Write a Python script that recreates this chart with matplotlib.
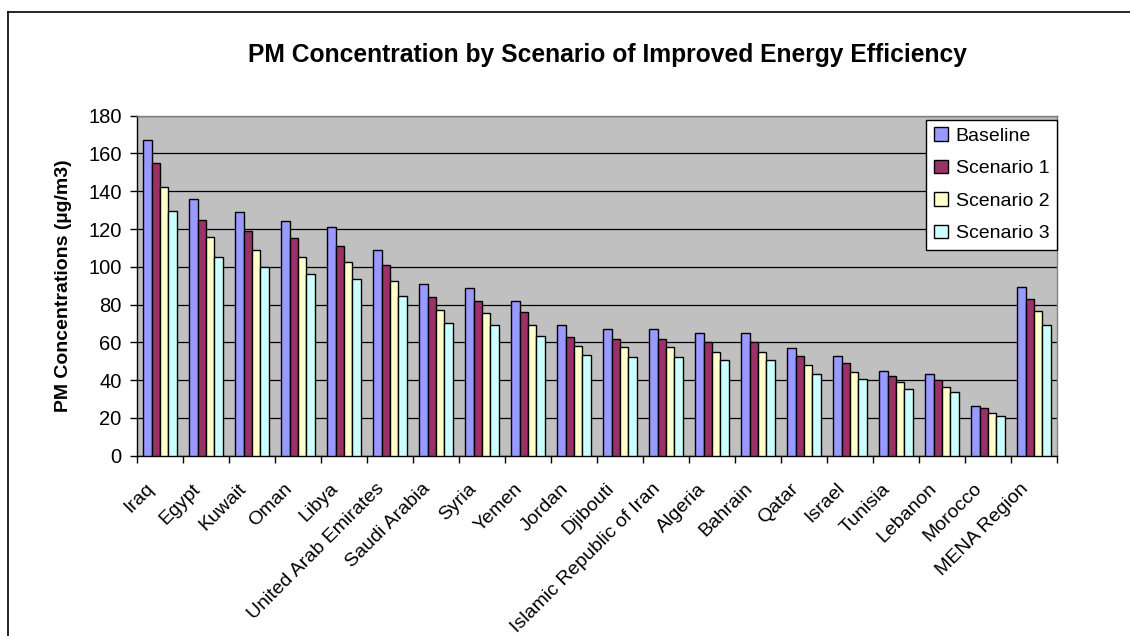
import matplotlib
matplotlib.use("Agg")
import matplotlib.pyplot as plt
import numpy as np
from matplotlib.lines import Line2D
from matplotlib.patches import Patch

plt.rcParams['font.family'] = ['Liberation Sans', 'DejaVu Sans']

categories = ["Iraq", "Egypt", "Kuwait", "Oman", "Libya", "United Arab Emirates",
              "Saudi Arabia", "Syria", "Yemen", "Jordan", "Djibouti",
              "Islamic Republic of Iran", "Algeria", "Bahrain", "Qatar", "Israel",
              "Tunisia", "Lebanon", "Morocco", "MENA Region"]
baseline = [167, 136, 129, 124, 121, 109, 91, 89, 82, 69, 67, 67, 65, 65, 57, 53, 45, 43, 26.5, 89.5]
scenario1 = [155, 125, 119, 115, 111, 101, 84, 82, 76, 63, 62, 62, 60, 60, 53, 49, 42, 40, 25, 83]
scenario2 = [142, 116, 109, 105, 102.5, 92.5, 77, 75.5, 69, 58, 57.5, 57.5, 55, 55, 48, 44.5, 39, 36.5, 22.5, 76.5]
scenario3 = [129.5, 105, 100, 96, 93.5, 84.5, 70, 69, 63.5, 53.5, 52.5, 52.5, 50.5, 50.5, 43.5, 40.5, 35.5, 33.5, 21, 69]
series_names = ["Baseline", "Scenario 1", "Scenario 2", "Scenario 3"]
colors = ["#9999FF", "#993366", "#FFFFCC", "#CCFFFF"]
yticks = [0, 20, 40, 60, 80, 100, 120, 140, 160, 180]

W, H = 1130, 636
fig = plt.figure(figsize=(W / 100, H / 100), dpi=100)
fig.patch.set_facecolor("white")

# outer frame lines (top and left)
fig.add_artist(Line2D([8 / W, 1.0], [1 - 12 / H, 1 - 12 / H], color="black", lw=1.2))
fig.add_artist(Line2D([8 / W, 8 / W], [0, 1 - 12 / H], color="black", lw=1.2))

left, right, top, bottom = 137, 1057, 115.7, 455.7
ax = fig.add_axes([left / W, 1 - bottom / H, (right - left) / W, (bottom - top) / H])
ax.set_facecolor("#C0C0C0")

n = len(categories)
x = np.arange(n)
bw = 1 / 5.5
data = [baseline, scenario1, scenario2, scenario3]
for i, (vals, c, name) in enumerate(zip(data, colors, series_names)):
    ax.bar(x + (i - 1.5) * bw, vals, width=bw, color=c, edgecolor="black",
           linewidth=1.0, label=name, zorder=3)

ax.set_xlim(-0.5, n - 0.5)
ax.set_ylim(0, 180)
ax.set_yticks(yticks)
ax.yaxis.grid(True, color="black", lw=0.9, zorder=1)
ax.tick_params(axis="y", labelsize=14.5, length=5, width=1, direction="out", pad=6)
for s in ["top", "right"]:
    ax.spines[s].set_color("#808080")
    ax.spines[s].set_linewidth(1.0)
for s in ["left", "bottom"]:
    ax.spines[s].set_color("black")
    ax.spines[s].set_linewidth(1.0)

ax.set_xticks(np.arange(n + 1) - 0.5)
ax.set_xticklabels([])
ax.tick_params(axis="x", length=5, width=1, direction="out")
for i, lab in enumerate(categories):
    ax.annotate(lab, xy=(i, 0), xycoords=("data", "axes fraction"),
                xytext=(-6, -22), textcoords="offset points",
                rotation=45, rotation_mode="anchor", ha="right", va="center",
                fontsize=14)

ax.set_ylabel("PM Concentrations (µg/m3)", fontsize=14, fontweight="bold", labelpad=12)

fig.text(607 / W, 1 - 55 / H, "PM Concentration by Scenario of Improved Energy Efficiency",
         ha="center", va="center", fontsize=17.7, fontweight="bold")

handles = [Patch(facecolor=c, edgecolor="black", lw=1.0) for c in colors]
leg = ax.legend(handles, series_names, loc="upper right", bbox_to_anchor=(1.0, 1 - 4 / 340),
                fontsize=14, frameon=True, fancybox=False, framealpha=1,
                edgecolor="black", handlelength=0.7, handleheight=0.7,
                handletextpad=0.4, borderpad=0.4, labelspacing=0.76, borderaxespad=0)
leg.get_frame().set_linewidth(1.0)

fig.savefig("out.png", dpi=100, facecolor="white")
